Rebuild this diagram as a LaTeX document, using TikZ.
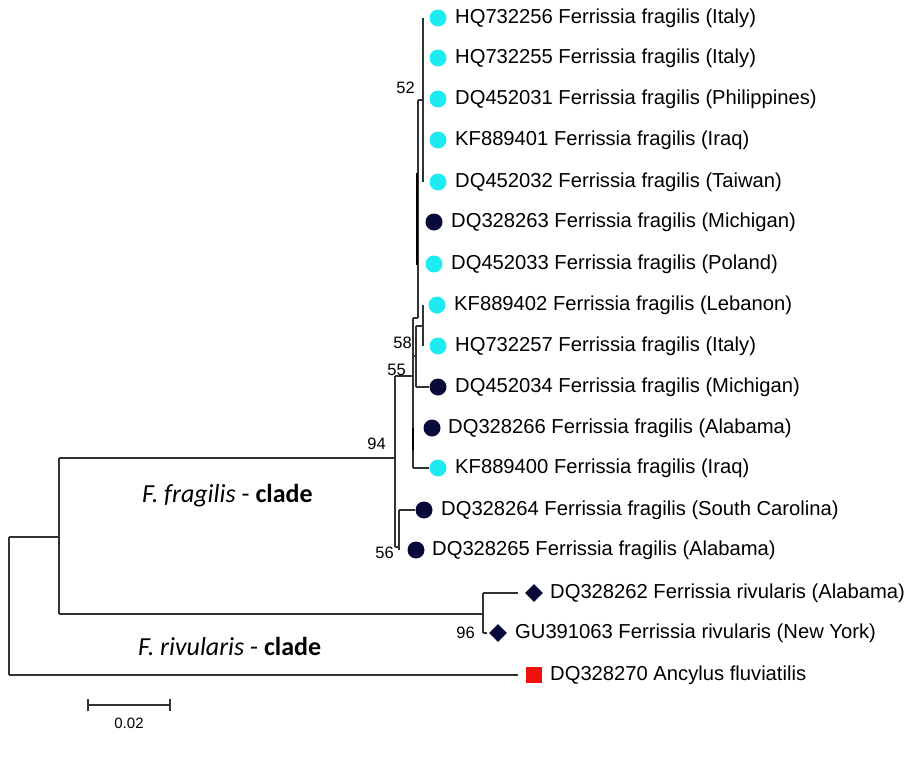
\documentclass[tikz,border=0pt]{standalone}
\usepackage{fontspec}
\usetikzlibrary{shapes.geometric}
\setmainfont{Liberation Sans}
\newfontfamily\calib{Carlito}
\definecolor{cyanm}{HTML}{1EEAF2}
\definecolor{navym}{HTML}{0A0A3A}
\definecolor{redm}{HTML}{F01010}
\definecolor{brc}{HTML}{333333}
\begin{document}
\begin{tikzpicture}[x=1pt,y=-1pt,
  branchline/.style={draw=brc,line width=1.2pt},
  thickline/.style={draw=black,line width=2.6pt},
  leaflabel/.style={anchor=west,inner sep=0pt,font=\fontsize{20.2}{24}\selectfont},
  bootlabel/.style={anchor=east,inner sep=0pt,font=\fontsize{16.5}{20}\selectfont},
  cyanmark/.style={circle,fill=cyanm,inner sep=0pt,minimum size=17pt},
  navymark/.style={circle,fill=navym,inner sep=0pt,minimum size=17pt},
  diamark/.style={diamond,fill=navym,inner sep=0pt,minimum size=18pt},
  sqmark/.style={rectangle,fill=redm,inner sep=0pt,minimum size=16pt},
  cladelabel/.style={anchor=west,inner sep=0pt,font=\calib\fontsize{26}{30}\selectfont}]
\useasboundingbox (0,0) rectangle (911,761);
% leaves
\node[cyanmark] (m1) at (438,18) {};   \node[leaflabel] (t1) at (455,18) {HQ732256 Ferrissia fragilis (Italy)};
\node[cyanmark] (m2) at (438,58) {};   \node[leaflabel] (t2) at (455,58) {HQ732255 Ferrissia fragilis (Italy)};
\node[cyanmark] (m3) at (438,99) {};   \node[leaflabel] (t3) at (455,99) {DQ452031 Ferrissia fragilis (Philippines)};
\node[cyanmark] (m4) at (438,140) {};  \node[leaflabel] (t4) at (455,140) {KF889401 Ferrissia fragilis (Iraq)};
\node[cyanmark] (m5) at (438,182) {};  \node[leaflabel] (t5) at (455,182) {DQ452032 Ferrissia fragilis (Taiwan)};
\node[navymark] (m6) at (434,222) {};  \node[leaflabel] (t6) at (451,222) {DQ328263 Ferrissia fragilis (Michigan)};
\node[cyanmark] (m7) at (434,264) {};  \node[leaflabel] (t7) at (451,264) {DQ452033 Ferrissia fragilis (Poland)};
\node[cyanmark] (m8) at (437,305) {};  \node[leaflabel] (t8) at (454,305) {KF889402 Ferrissia fragilis (Lebanon)};
\node[cyanmark] (m9) at (438,346) {};  \node[leaflabel] (t9) at (455,346) {HQ732257 Ferrissia fragilis (Italy)};
\node[navymark] (m10) at (438,387) {}; \node[leaflabel] (t10) at (455,387) {DQ452034 Ferrissia fragilis (Michigan)};
\node[navymark] (m11) at (432,428) {}; \node[leaflabel] (t11) at (448,428) {DQ328266 Ferrissia fragilis (Alabama)};
\node[cyanmark] (m12) at (438,468) {}; \node[leaflabel] (t12) at (455,468) {KF889400 Ferrissia fragilis (Iraq)};
\node[navymark] (m13) at (424,510) {}; \node[leaflabel] (t13) at (441,510) {DQ328264 Ferrissia fragilis (South Carolina)};
\node[navymark] (m14) at (416,550) {}; \node[leaflabel] (t14) at (432,550) {DQ328265 Ferrissia fragilis (Alabama)};
\node[diamark] (m15) at (534,593) {}; \node[leaflabel] (t15) at (550,593) {DQ328262 Ferrissia rivularis (Alabama)};
\node[diamark] (m16) at (498,633) {}; \node[leaflabel] (t16) at (515,633) {GU391063 Ferrissia rivularis (New York)};
\node[sqmark] (m17) at (534,675) {}; \node[leaflabel] (t17) at (550,675) {DQ328270 Ancylus fluviatilis};
% internal nodes
\coordinate (R) at (9,606);
\coordinate (A) at (59,537);
\coordinate (N94) at (395,458);
\coordinate (N56) at (399,547);
\coordinate (N55) at (413,376);
\coordinate (N58) at (416,356);
\coordinate (NK) at (423,326);
\coordinate (P) at (418,318);
\coordinate (N52) at (423,100);
\coordinate (N96) at (483,614);
% tip ends
\coordinate (e1) at (429,18); \coordinate (e5) at (429,182);
\coordinate (e8) at (428,305); \coordinate (e9) at (429,346);
\coordinate (e10) at (429,387); \coordinate (e12) at (429,468);
\coordinate (e13) at (415,510); \coordinate (e14) at (407,550);
\coordinate (e15) at (518,593); \coordinate (e16) at (487,633);
\coordinate (e17) at (518,675);
% root
\draw[branchline] (R |- A) -- (R |- e17);
\draw[branchline] (R |- A) -- (A);
\draw[branchline] (R |- e17) -- (e17);
\draw[branchline] (A |- N94) -- (A |- N96);
\draw[branchline] (A |- N94) -- (N94);
\draw[branchline] (A |- N96) -- (N96);
% rivularis
\draw[branchline] (N96 |- e15) -- (N96 |- e16);
\draw[branchline] (N96 |- e15) -- (e15);
\draw[branchline] (N96 |- e16) -- (e16);
% node 94
\draw[branchline] (N94 |- N55) -- (N94 |- N56);
\draw[branchline] (N94 |- N55) -- (N55);
\draw[branchline] (N94 |- N56) -- (N56);
% node 56
\draw[branchline] (N56 |- e13) -- (N56 |- e14);
\draw[branchline] (N56 |- e13) -- (e13);
% node 55
\draw[branchline] (N55 |- P) -- (N55 |- e12);
\draw[branchline] (N55 |- P) -- (P);
\draw[branchline] (N55 |- N58) -- (N58);
\draw[branchline] (N55 |- e12) -- (e12);
\draw[thickline] (413,428) -- (413,450);
% node 58
\draw[branchline] (N58 |- NK) -- (N58 |- e10);
\draw[branchline] (N58 |- NK) -- (NK);
\draw[branchline] (N58 |- e10) -- (e10);
\draw[branchline] (NK |- e8) -- (NK |- e9);
% polytomy
\draw[branchline] (P |- N52) -- (P);
\draw[thickline] (417,173) -- (417,265);
\draw[branchline] (P |- N52) -- (N52);
% node 52
\draw[branchline] (N52 |- e1) -- (N52 |- e5);
% bootstrap values
\node[bootlabel] (b52) at (415,88) {52};
\node[bootlabel] (b58) at (412,343) {58};
\node[bootlabel] (b55) at (406,370) {55};
\node[bootlabel] (b94) at (386,444) {94};
\node[bootlabel] (b56) at (394,553) {56};
\node[bootlabel] (b96) at (475,633) {96};
% clade labels
\node[cladelabel] (c1) at (142,496) {\textit{F. fragilis} - \textbf{clade}};
\node[cladelabel] (c2) at (138,646) {\textit{F. rivularis} - \textbf{clade}};
% scale bar
\coordinate (s1) at (88,705); \coordinate (s2) at (170,705);
\draw[branchline] (s1) -- (s2);
\draw[branchline] ([yshift=-6]s1) -- ([yshift=6]s1);
\draw[branchline] ([yshift=-6]s2) -- ([yshift=6]s2);
\node[inner sep=0pt,font=\fontsize{15}{18}\selectfont] (sl) at (129,723) {0.02};
\end{tikzpicture}
\end{document}
